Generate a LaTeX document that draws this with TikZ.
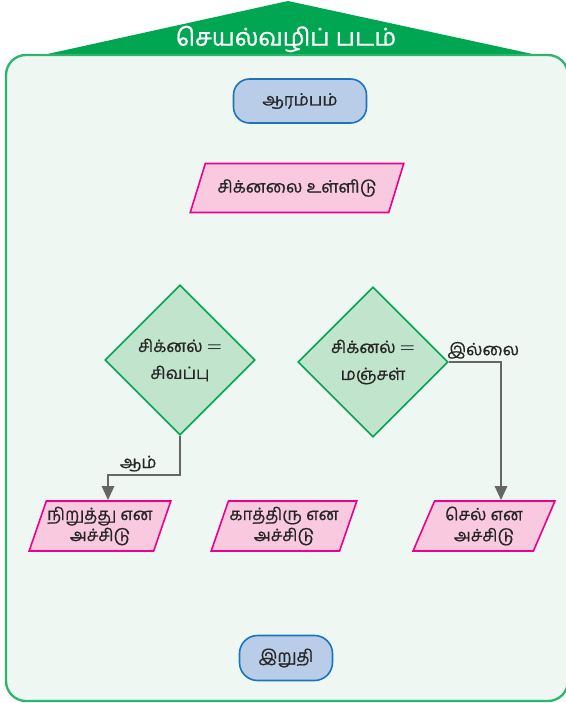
\documentclass[tikz,border=0pt]{standalone}
\usepackage{fontspec}
\usetikzlibrary{arrows.meta,shapes.geometric}
\newfontfamily\tamil[Script=Tamil, FakeBold=0.6]{Hind Madurai}
\newfontfamily\tamiltitle[Script=Tamil, FakeBold=0.8]{Hind Madurai}
\definecolor{roofgreen}{HTML}{00A651}
\definecolor{boxline}{HTML}{2DB56E}
\definecolor{boxfill}{HTML}{EEF7F2}
\definecolor{termfill}{HTML}{B9CDE8}
\definecolor{termline}{HTML}{1C75BC}
\definecolor{iofill}{HTML}{F9CADF}
\definecolor{ioline}{HTML}{EC008C}
\definecolor{decfill}{HTML}{C1E4CD}
\definecolor{decline}{HTML}{00A651}
\definecolor{arrgray}{HTML}{666666}

\begin{document}
\begin{tikzpicture}[
  x=1pt, y=-1pt,
  font=\tamil\fontsize{17}{21}\selectfont,
  text=black!85,
  >={Triangle[width=12pt,length=14pt]},
  term/.style={draw=termline, fill=termfill, line width=1.6pt, rounded corners=16pt, minimum height=44pt},
  io/.style={trapezium, trapezium stretches=true, draw=ioline, fill=iofill, line width=1.6pt,
             minimum height=50pt, align=center, inner sep=1pt},
  dec/.style={diamond, draw=decline, fill=decfill, line width=1.6pt, minimum width=150pt,
              minimum height=150pt, align=center, inner sep=0pt, font=\tamil\fontsize{17}{27}\selectfont},
  arr/.style={->, draw=arrgray, line width=2.6pt},
  lbl/.style={inner sep=2pt}]

\useasboundingbox (0,0) rectangle (565,703);

% ===== frame =====
\fill[roofgreen] (43,55) -- (288,1) -- (537,55) -- cycle;
\draw[draw=boxline, fill=boxfill, line width=2.3pt, rounded corners=20pt] (6,55) rectangle (568,701);
\node[text=white, font=\tamiltitle\fontsize{24.5}{28}\selectfont] (title) at (286,39) {செயல்வழிப் படம்};

% ===== flow =====
\node[term, minimum width=133pt] (start) at (300,101) {ஆரம்பம்};
\node[io, trapezium left angle=56, trapezium right angle=124, minimum width=214pt, minimum height=49pt]
  (inp) at (297,188) {சிக்னலை உள்ளிடு};
\node[dec] (red) at (180,360) {சிக்னல் {\boldmath$=$}\\சிவப்பு};
\node[dec] (yel) at (373,362) {சிக்னல் {\boldmath$=$}\\மஞ்சள்};

% ===== outputs =====
\node[io, trapezium left angle=67, trapezium right angle=113, minimum width=142pt] (stop) at (100,526) {நிறுத்து என\\அச்சிடு};
\node[io, trapezium left angle=67, trapezium right angle=113, minimum width=142pt] (wait) at (284,526) {காத்திரு என\\அச்சிடு};
\node[io, trapezium left angle=67, trapezium right angle=113, minimum width=142pt] (go) at (484,526) {செல் என\\அச்சிடு};
\node[term, minimum width=93pt, minimum height=45pt, rounded corners=18pt] (fin) at (286,658) {இறுதி};

% ===== edges =====
\draw[arr] (red.south) -- ++(0,39) -| node[lbl, pos=0.29, above] {ஆம்} ([xshift=8pt]stop.north);
\draw[arr] (yel.east) -| node[lbl, pos=0.33, above] {இல்லை} ([xshift=17pt]go.north);

\end{tikzpicture}
\end{document}
